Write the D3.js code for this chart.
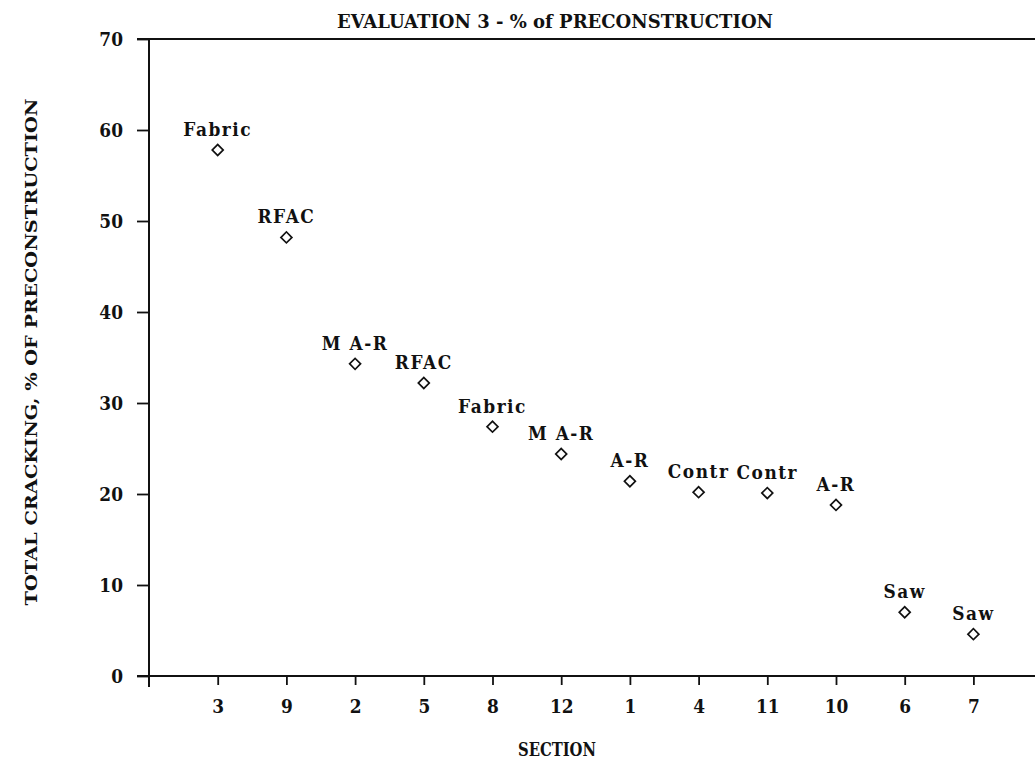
<!DOCTYPE html>
<html>
<head>
<meta charset="utf-8">
<script src="https://cdn.jsdelivr.net/npm/d3@7"></script>
<style>
  body { margin: 0; background: #fff; }
  svg { display: block; }
  text { font-family: "DejaVu Serif", "Liberation Serif", serif; font-weight: bold; fill: #111; }
  .axis path, .axis line { stroke: #111; }
</style>
</head>
<body>
<div id="chart"></div>
<script>
// section order along the x axis
var sections = ["3", "9", "2", "5", "8", "12", "1", "4", "11", "10", "6", "7"];
// treatment label for each section
var treatments = ["Fabric", "RFAC", "M A-R", "RFAC", "Fabric", "M A-R", "A-R", "Contr", "Contr", "A-R", "Saw", "Saw"];
// total cracking, % of preconstruction
var cracking = [57.8, 48.2, 34.3, 32.2, 27.4, 24.4, 21.4, 20.2, 20.1, 18.8, 7.0, 4.6];
var yTicks = [0, 10, 20, 30, 40, 50, 60, 70];

var width = 1035, height = 761;
var margin = {top: 39, left: 149, bottom: 676};
var stretch = 1.12; // the scanned lettering is a bit taller than the font

var svg = d3.select("#chart")
    .append("svg")
        .attr("width", width)
        .attr("height", height);

var x = d3.scalePoint()
    .domain(sections)
    .range([margin.left, margin.left + 68.7 * 13])
    .padding(1);

var y = d3.scaleLinear()
    .domain([0, 70])
    .range([margin.bottom, margin.top]);

var data = sections.map(function(s, i) {
    return {section: s, label: treatments[i], value: cracking[i]};
});

// frame lines
svg.append("line")
    .attr("x1", margin.left - 12).attr("x2", width)
    .attr("y1", y(70)).attr("y2", y(70))
    .style("stroke", "#111").style("stroke-width", 2);

svg.append("line")
    .attr("x1", margin.left - 12).attr("x2", width)
    .attr("y1", y(0)).attr("y2", y(0))
    .style("stroke", "#111").style("stroke-width", 2);

svg.append("line")
    .attr("x1", margin.left).attr("x2", margin.left)
    .attr("y1", y(70)).attr("y2", y(0) + 11)
    .style("stroke", "#111").style("stroke-width", 2);

// y axis
var yAxis = svg.append("g")
    .classed("axis", true)
    .attr("transform", "translate(" + margin.left + ",0)")
    .call(d3.axisLeft(y).tickValues(yTicks).tickSize(12).tickPadding(14));

yAxis.select(".domain").remove();
yAxis.selectAll("line").style("stroke-width", 1.8);
yAxis.selectAll("text")
    .style("font-size", "17px")
    .attr("dy", "0.36em")
    .attr("transform", "scale(1," + stretch + ")");

// x axis
var xAxis = svg.append("g")
    .classed("axis", true)
    .attr("transform", "translate(0," + y(0) + ")")
    .call(d3.axisBottom(x).tickSize(9).tickPadding(12));

xAxis.select(".domain").remove();
xAxis.selectAll("line").style("stroke-width", 1.8);
xAxis.selectAll("text")
    .style("font-size", "17px")
    .attr("transform", "scale(1," + stretch + ")");

// points
var diamond = d3.symbol().type(d3.symbolSquare).size(60);

var points = svg.append("g")
    .selectAll(".point")
    .data(data)
    .enter()
    .append("g")
        .classed("point", true)
        .attr("transform", function(d) {
            return "translate(" + x(d.section) + "," + y(d.value) + ")";
        });

points.append("path")
    .attr("d", diamond)
    .attr("transform", "rotate(45)")
    .style("fill", "none")
    .style("stroke", "#111")
    .style("stroke-width", 1.7);

points.append("text")
    .attr("transform", "translate(0,-14) scale(1," + stretch + ")")
    .attr("text-anchor", "middle")
    .style("font-size", "17px")
    .style("letter-spacing", "1.5px")
    .text(function(d) { return d.label; });

// titles
svg.append("text")
    .attr("transform", "translate(555,28) scale(1," + stretch + ")")
    .attr("text-anchor", "middle")
    .attr("textLength", 436)
    .attr("lengthAdjust", "spacingAndGlyphs")
    .style("font-size", "17px")
    .text("EVALUATION 3 - % of PRECONSTRUCTION");

svg.append("text")
    .attr("transform", "translate(557,756) scale(1," + stretch + ")")
    .attr("text-anchor", "middle")
    .attr("textLength", 78)
    .attr("lengthAdjust", "spacingAndGlyphs")
    .style("font-size", "16px")
    .text("SECTION");

svg.append("text")
    .attr("transform", "translate(37,352) rotate(-90)")
    .attr("text-anchor", "middle")
    .attr("textLength", 507)
    .attr("lengthAdjust", "spacingAndGlyphs")
    .style("font-size", "17px")
    .text("TOTAL CRACKING, % OF PRECONSTRUCTION");
</script>
</body>
</html>
